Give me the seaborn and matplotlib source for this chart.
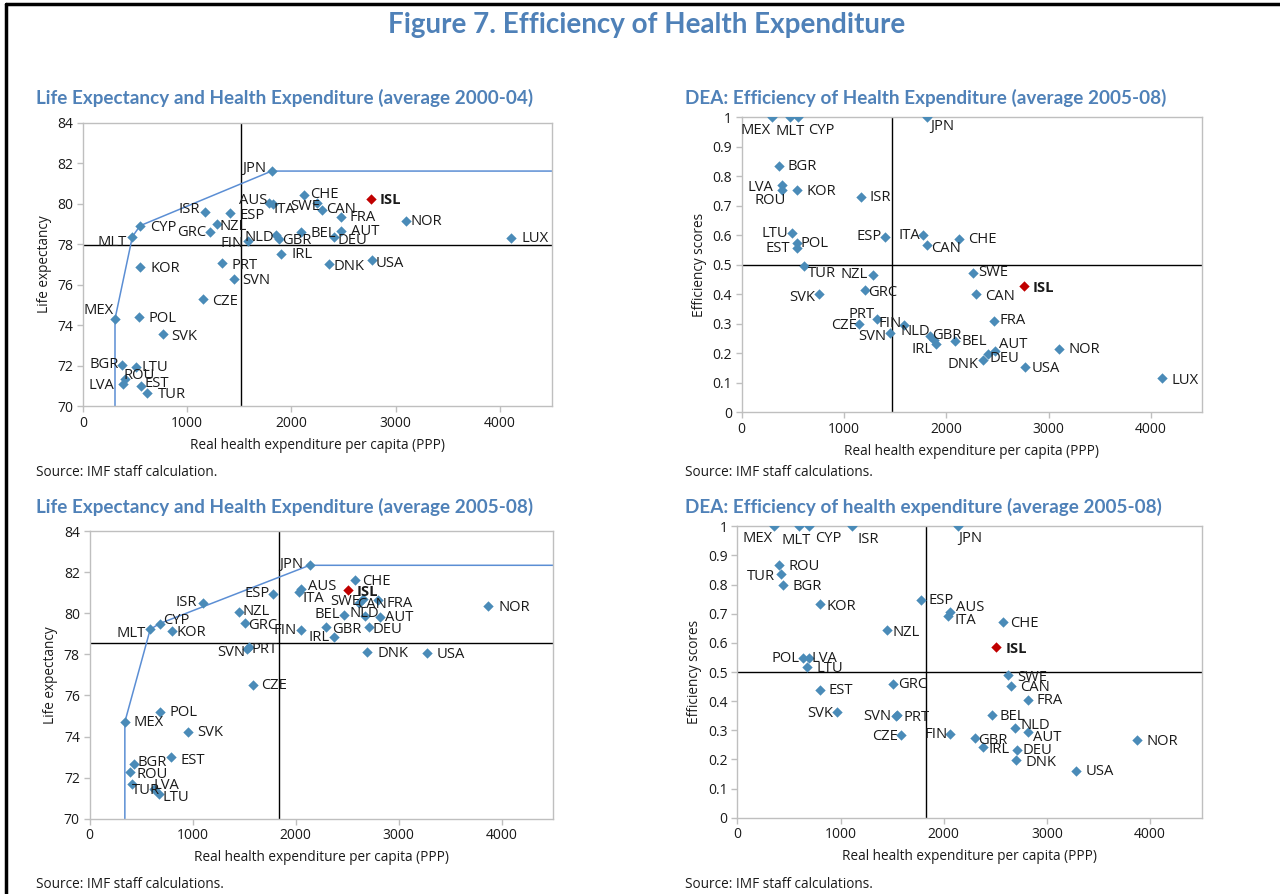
import pandas as pd
import matplotlib.pyplot as plt
import seaborn as sns
from matplotlib.ticker import FuncFormatter
from matplotlib.lines import Line2D

# ---- Panel 1: life expectancy vs spending, average 2000-04
countries1 = ["MEX", "MLT", "CYP", "KOR", "POL", "SVK", "BGR", "LTU", "ROU", "LVA", "EST", "TUR",
              "ISR", "ESP", "NZL", "GRC", "FIN", "CZE", "PRT", "SVN", "JPN", "AUS", "ITA", "CHE",
              "SWE", "CAN", "FRA", "ISL", "NLD", "GBR", "IRL", "BEL", "AUT", "DEU", "DNK", "USA",
              "NOR", "LUX"]
spend1 = [307, 474, 548, 548, 541, 763, 372, 509, 404, 388, 554, 615,
          1172, 1409, 1284, 1217, 1579, 1153, 1329, 1448, 1810, 1784, 1819, 2120,
          2248, 2290, 2473, 2764, 1851, 1883, 1902, 2088, 2478, 2411, 2357, 2773,
          3100, 4109]
life1 = [74.30, 78.37, 78.91, 76.87, 74.40, 73.54, 72.01, 71.94, 71.35, 71.10, 70.99, 70.66,
         79.57, 79.52, 79.01, 78.60, 78.17, 75.27, 77.05, 76.28, 81.61, 80.05, 79.97, 80.44,
         80.05, 79.69, 79.36, 80.25, 78.45, 78.24, 77.51, 78.61, 78.65, 78.34, 77.02, 77.22,
         79.16, 78.32]
avg_spend1, avg_life1 = 1512, 77.97

# ---- Panel 2: DEA efficiency, average 2005-08 (spending axis as in panel 1)
countries2 = ["MEX", "MLT", "CYP", "JPN", "BGR", "LVA", "ROU", "KOR", "ISR", "LTU", "POL", "EST",
              "ESP", "ITA", "CAN", "CHE", "TUR", "NZL", "SVK", "GRC", "SWE", "ISL", "CAN", "FRA",
              "CZE", "PRT", "SVN", "FIN", "NLD", "GBR", "IRL", "BEL", "AUT", "DEU", "DNK", "NOR",
              "USA", "LUX"]
spend2 = [300, 473, 548, 1810, 362, 395, 398, 545, 1171, 496, 538, 545,
          1402, 1774, 1816, 2123, 613, 1285, 757, 1210, 2257, 2756, 2289, 2469,
          1151, 1321, 1445, 1582, 1842, 1880, 1901, 2087, 2472, 2407, 2358, 3104,
          2772, 4112]
eff2 = [1.0, 1.0, 1.0, 1.0, 0.836, 0.769, 0.753, 0.752, 0.730, 0.607, 0.575, 0.555,
        0.593, 0.600, 0.568, 0.588, 0.497, 0.466, 0.400, 0.415, 0.472, 0.426, 0.400, 0.310,
        0.299, 0.316, 0.267, 0.295, 0.258, 0.245, 0.230, 0.241, 0.208, 0.197, 0.176, 0.215,
        0.153, 0.114]
avg_spend2, avg_eff2 = 1474, 0.50

# ---- Panel 3: life expectancy vs spending, average 2005-08
countries3 = ["MEX", "MLT", "CYP", "KOR", "ISR", "ESP", "NZL", "GRC", "SVN", "PRT", "CZE", "POL",
              "SVK", "BGR", "ROU", "TUR", "LVA", "LTU", "EST", "JPN", "AUS", "ITA", "CHE", "ISL",
              "SWE", "CAN", "FRA", "BEL", "NLD", "AUT", "DEU", "GBR", "IRL", "FIN", "DNK", "USA",
              "NOR"]
spend3 = [343, 589, 680, 799, 1100, 1780, 1447, 1505, 1531, 1547, 1582, 683,
          958, 430, 395, 408, 621, 670, 786, 2136, 2052, 2032, 2573, 2505,
          2654, 2615, 2799, 2469, 2670, 2815, 2709, 2298, 2372, 2055, 2696, 3278,
          3870]
life3 = [74.71, 79.22, 79.50, 79.12, 80.52, 80.94, 80.08, 79.51, 78.26, 78.34, 76.53, 75.21,
         74.24, 72.66, 72.26, 71.67, 71.46, 71.20, 72.99, 82.34, 81.17, 81.06, 81.61, 81.15,
         80.70, 80.52, 80.63, 79.92, 79.89, 79.84, 79.32, 79.33, 78.83, 79.20, 78.13, 78.07,
         80.34]
avg_spend3, avg_life3 = 1838, 78.56

# ---- Panel 4: DEA efficiency, average 2005-08
countries4 = ["MEX", "MLT", "CYP", "ISR", "JPN", "ROU", "TUR", "BGR", "KOR", "ESP", "AUS", "ITA",
              "CHE", "NZL", "ISL", "POL", "LVA", "LTU", "SWE", "CAN", "FRA", "GRC", "EST", "SVK",
              "SVN", "PRT", "CZE", "FIN", "BEL", "NLD", "AUT", "GBR", "IRL", "DEU", "DNK", "USA",
              "NOR"]
spend4 = [352, 597, 690, 1107, 2142, 406, 423, 442, 800, 1784, 2065, 2045,
          2578, 1452, 2503, 636, 694, 677, 2619, 2652, 2813, 1510, 797, 968,
          1535, 1550, 1587, 2061, 2471, 2690, 2820, 2303, 2384, 2713, 2700, 3284,
          3874]
eff4 = [1.0, 1.0, 1.0, 1.0, 1.0, 0.867, 0.835, 0.799, 0.733, 0.748, 0.707, 0.692,
        0.672, 0.643, 0.586, 0.549, 0.549, 0.517, 0.489, 0.451, 0.405, 0.460, 0.439, 0.363,
        0.350, 0.352, 0.283, 0.287, 0.351, 0.309, 0.294, 0.275, 0.241, 0.231, 0.198, 0.161,
        0.267]
avg_spend4, avg_eff4 = 1832, 0.50

frontier_countries = ["MEX", "MLT", "CYP", "JPN"]

# label placement (pixel offsets from the marker, text alignment), same order as the countries
R = "left"
L = "right"
C = "center"
labels1 = [(-1, 8, L), (-6, -6, L), (10, -2, R), (10, -2, R), (9, -2, R), (9, -2, R), (-3, 1, L),
           (5, -1, R), (-2, 3, R), (-9, -2, L), (4, 2, R), (11, -2, R), (-5, 3, L), (10, -2, R),
           (3, -3, R), (-4, -1, L), (-4, -3, L), (9, -2, R), (10, -2, R), (8, -2, R), (-5, 3, L),
           (-2, 2, L), (1, -5, R), (6, 0, R), (3, -4, L), (4, 0, R), (9, -1, R), (9, -1, R),
           (-2, -2, L), (3, -1, R), (10, 0, R), (10, -2, R), (10, -1, R), (3, -3, R), (5, -3, R),
           (4, -4, R), (4, -1, R), (10, -1, R)]
labels2 = [(-17, -13, C), (0, -14, C), (24, -13, C), (3, -9, R), (9, -1, R), (-9, -2, L),
           (-12, -10, C), (9, -1, R), (8, -1, R), (-4, 0, L), (4, -1, R), (-7, 0, L), (-3, 1, L),
           (-3, 0, L), (4, -4, R), (9, -1, R), (3, -8, R), (-5, 0, L), (-4, -3, L), (3, -3, R),
           (6, 0, R), (9, -2, R), (9, -2, R), (5, 0, R), (-2, -2, L), (-2, 4, L), (-3, -3, L),
           (-2, 2, L), (0, 4, L), (-2, 4, R), (-4, -5, L), (6, -1, R), (4, 6, R), (2, -5, R),
           (-4, -4, L), (9, -1, R), (6, -2, R), (9, -2, R)]
labels3 = [(9, -1, R), (-4, -4, L), (4, 3, R), (5, -1, R), (-6, 0, L), (-3, 1, L), (4, 0, R),
           (4, -2, R), (-2, -3, L), (3, -2, R), (9, -1, R), (10, -1, R), (9, -1, R), (4, 2, R),
           (6, -2, R), (0, -6, R), (0, 3, R), (4, -3, R), (10, -3, R), (-6, 1, L), (7, 3, R),
           (4, -7, R), (7, -1, R), (9, -2, R), (-3, -3, L), (-2, -2, R), (9, -3, R), (-4, 0, L),
           (-15, 2, R), (5, -1, R), (4, -2, R), (6, -2, R), (-4, 0, L), (-5, -1, L), (10, -2, R),
           (9, -2, R), (10, -1, R)]
labels4 = [(-16, -12, C), (-3, -14, C), (20, -12, C), (17, -13, C), (12, -12, C), (9, -1, R),
           (-6, -2, L), (10, -2, R), (7, -2, R), (7, -1, R), (6, 4, R), (6, -4, R), (7, -2, R),
           (5, -2, R), (10, -2, R), (-3, -1, L), (3, -1, R), (9, -1, R), (10, -2, R), (9, -1, R),
           (9, -1, R), (5, -1, R), (9, -1, R), (-4, -2, L), (-4, -1, L), (6, -2, R), (-3, -1, L),
           (-2, 0, L), (7, -1, R), (6, 2, R), (5, -5, R), (3, -3, R), (5, -2, R), (5, 0, R),
           (10, -2, R), (9, -1, R), (9, -2, R)]

sns.set_theme(style="white")
plt.rcParams["font.family"] = ["Open Sans", "DejaVu Sans"]

BLUE = "#4a8bb8"
RED = "#c00000"
TITLE_BLUE = "#4f81b8"
FRONTIER = "#5b8ed4"
GRID = "#bfbfbf"
W, H = 1280, 894

fig = plt.figure(figsize=(12.8, 8.94), dpi=100)


def px_rect(l, t, r, b):
    return [l / W, 1 - b / H, (r - l) / W, (b - t) / H]


def panel(rect, countries, xs, ys, labels, ylim, yticks, ylabel, vline, hline, frontier=False):
    ax = fig.add_axes(rect)
    df = pd.DataFrame({"country": countries, "spend": xs, "value": ys})
    isl = df["country"] == "ISL"

    ax.axvline(vline, color="black", lw=1, zorder=1)
    ax.axhline(hline, color="black", lw=1, zorder=1)

    if frontier:
        fr = df.set_index("country").loc[frontier_countries]
        fx = [fr["spend"].iloc[0]] + list(fr["spend"]) + [4500]
        fy = [ylim[0]] + list(fr["value"]) + [fr["value"].iloc[-1]]
        ax.plot(fx, fy, color=FRONTIER, lw=1.1, zorder=2)

    sns.scatterplot(data=df[~isl], x="spend", y="value", marker="D", color=BLUE,
                    s=28, linewidth=0, ax=ax, zorder=3)
    sns.scatterplot(data=df[isl], x="spend", y="value", marker="D", color=RED,
                    s=28, linewidth=0, ax=ax, zorder=3)

    for name, x, y, (dx, dy, ha) in zip(countries, xs, ys, labels):
        ax.annotate(name, (x, y), xytext=(dx, dy), textcoords="offset pixels",
                    ha=ha, va="center", fontsize=10.6, color="#1a1a1a",
                    fontweight="bold" if name == "ISL" else "normal", zorder=4)

    ax.set_xlim(0, 4500)
    ax.set_ylim(*ylim)
    ax.set_xticks([0, 1000, 2000, 3000, 4000])
    ax.set_yticks(yticks)
    ax.yaxis.set_major_formatter(FuncFormatter(lambda v, p: f"{v:g}"))
    ax.tick_params(axis="both", which="both", bottom=True, left=True, length=4,
                   width=1, color=GRID, labelsize=10, labelcolor="#1a1a1a", pad=3)
    for sp in ax.spines.values():
        sp.set_color(GRID)
        sp.set_linewidth(1)
    ax.set_xlabel("Real health expenditure per capita (PPP)", fontsize=9.8, color="#1a1a1a", labelpad=5)
    ax.set_ylabel(ylabel, fontsize=9.8, color="#1a1a1a", labelpad=4)
    return ax


life_ticks = [70, 72, 74, 76, 78, 80, 82, 84]
eff_ticks = [0, 0.1, 0.2, 0.3, 0.4, 0.5, 0.6, 0.7, 0.8, 0.9, 1]

panel(px_rect(83, 122.7, 552, 406), countries1, spend1, life1, labels1,
      (70, 84), life_ticks, "Life expectancy", avg_spend1, avg_life1, frontier=True)
panel(px_rect(741.7, 117.3, 1202, 412), countries2, spend2, eff2, labels2,
      (0, 1), eff_ticks, "Efficiency scores", avg_spend2, avg_eff2)
panel(px_rect(89.5, 531.2, 553.3, 818.7), countries3, spend3, life3, labels3,
      (70, 84), life_ticks, "Life expectancy", avg_spend3, avg_life3, frontier=True)
panel(px_rect(737.3, 526.3, 1201.7, 817.7), countries4, spend4, eff4, labels4,
      (0, 1), eff_ticks, "Efficiency scores", avg_spend4, avg_eff4)

# titles and sources
fig.text(0.505, 1 - 25 / H, "Figure 7. Efficiency of Health Expenditure", ha="center", va="center",
         fontsize=20, fontweight="bold", color=TITLE_BLUE, family="Lato")
subtitles = [(36, 98, "Life Expectancy and Health Expenditure (average 2000-04)"),
             (685, 98, "DEA: Efficiency of Health Expenditure (average 2005-08)"),
             (36, 507, "Life Expectancy and Health Expenditure (average 2005-08)"),
             (685, 507, "DEA: Efficiency of health expenditure (average 2005-08)")]
for x, y, t in subtitles:
    fig.text(x / W, 1 - y / H, t, ha="left", va="center", fontsize=13.6, fontweight="bold",
             color=TITLE_BLUE, family="Lato")
sources = [(36, 473, "Source: IMF staff calculation."),
           (685, 473, "Source: IMF staff calculations."),
           (36, 884, "Source: IMF staff calculations."),
           (685, 884, "Source: IMF staff calculations.")]
for x, y, t in sources:
    fig.text(x / W, 1 - y / H, t, ha="left", va="center", fontsize=9.8, color="#1a1a1a")

# page frame on the left and top edges
fig.add_artist(Line2D([6 / W, 6 / W], [0, 1 - 4 / H], color="black", lw=2.5, transform=fig.transFigure))
fig.add_artist(Line2D([6 / W, 1], [1 - 4 / H, 1 - 4 / H], color="black", lw=2.5, transform=fig.transFigure))

fig.savefig("out.png", dpi=100)
